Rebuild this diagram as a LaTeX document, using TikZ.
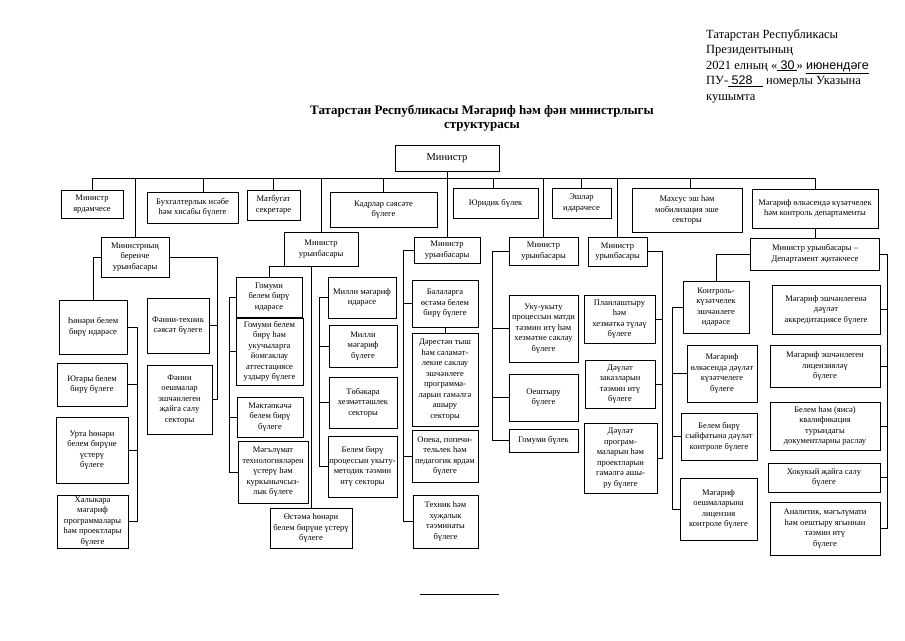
\documentclass[tikz,border=0pt]{standalone}
\usepackage{fontspec}
\setmainfont{Liberation Serif}
\newfontfamily\hdrsans{Liberation Sans}
\begin{document}
\begin{tikzpicture}[x=1pt,y=-1pt,
  box/.style={draw, line width=0.9pt, align=center, inner sep=1pt, font=\fontsize{8.5}{10.5}\selectfont},
  link/.style={line width=0.75pt},
  hdr/.style={anchor=north west, align=left, inner sep=0pt, font=\fontsize{12.5}{15.5}\selectfont},
  ttl/.style={align=center, inner sep=0pt, font=\fontsize{13}{14.5}\selectfont\bfseries}
]
\path[use as bounding box, fill=white] (0,0) rectangle (905,640);

% header and title
\node[hdr] (header) at (706,29) {Татарстан Республикасы\\Президентының\\2021 елның «\underline{\hdrsans\ 30\,}» \underline{\hdrsans июнендәге}\\ПУ-\underline{\hdrsans\ 528\ \ \ }\ номерлы Указына\\кушымта};
\node[ttl] (title) at (482,118) {Татарстан Республикасы Мәгариф һәм фән министрлыгы\\структурасы};

% minister
\node[box, font=\fontsize{10.5}{12}\selectfont, minimum width=104, minimum height=26] (min) at (447,158) {Министр};

% row 1
\node[box, minimum width=62, minimum height=28] (r1a) at (92,204) {Министр\\ярдәмчесе};
\node[box, minimum width=91, minimum height=31] (r1b) at (192.5,207.5) {Бухгалтерлык исәбе\\һәм хисабы бүлеге};
\node[box, minimum width=53, minimum height=30] (r1c) at (273.5,205) {Матбугат\\секретаре};
\node[box, minimum width=107, minimum height=35] (r1d) at (383.5,209.5) {Кадрлар сәясәте\\бүлеге};
\node[box, minimum width=85, minimum height=30] (r1e) at (495.5,203) {Юридик бүлек};
\node[box, minimum width=59, minimum height=30] (r1f) at (581.5,203) {Эшләр\\идарәчесе};
\node[box, minimum width=110, minimum height=44] (r1g) at (687,210) {Махсус эш һәм\\мобилизация эше\\секторы};
\node[box, minimum width=126, minimum height=39] (r1h) at (815,208.5) {Мәгариф өлкәсендә күзәтчелек\\һәм контроль департаменты};

% deputies
\node[box, minimum width=68, minimum height=40] (d1) at (135,257) {Министрның\\беренче\\урынбасары};
\node[box, minimum width=74, minimum height=34] (d2) at (321,249) {Министр\\урынбасары};
\node[box, minimum width=66, minimum height=26] (d3) at (447,250) {Министр\\урынбасары};
\node[box, minimum width=69, minimum height=28] (d4) at (543.5,251) {Министр\\урынбасары};
\node[box, minimum width=59, minimum height=29] (d5) at (617.5,251.5) {Министр\\урынбасары};
\node[box, minimum width=129, minimum height=32] (d6) at (815,254) {Министр урынбасары --\\Департамент җитәкчесе};

% column 1
\node[box, minimum width=68, minimum height=54] (hon) at (93,327) {Һөнәри белем\\бирү идарәсе};
\node[box, minimum width=70, minimum height=43] (yug) at (92,384.5) {Югары белем\\бирү бүлеге};
\node[box, minimum width=72, minimum height=66] (urt) at (92,450) {Урта һөнәри\\белем бирүне\\үстерү\\бүлеге};
\node[box, minimum width=71, minimum height=53] (hal) at (92.5,521.5) {Халыкара\\мәгариф\\программалары\\һәм проектлары\\бүлеге};
\node[box, minimum width=62, minimum height=55] (ft) at (178,325.5) {Фәнни-техник\\сәясәт бүлеге};
\node[box, minimum width=65, minimum height=69] (fo) at (179.5,399.5) {Фәнни\\оешмалар\\эшчәнлеген\\җайга салу\\секторы};

% column 2
\node[box, minimum width=66, minimum height=40] (gbi) at (269,297) {Гомуми\\белем бирү\\идарәсе};
\node[box, minimum width=67, minimum height=67] (gbh) at (269.5,351.5) {Гомуми белем\\бирү һәм\\укучыларга\\йомгаклау\\аттестациясе\\уздыру бүлеге};
\node[box, minimum width=66, minimum height=40] (mak) at (270,417) {Мәктәпкәчә\\белем бирү\\бүлеге};
\node[box, minimum width=70, minimum height=62] (mag) at (273,472) {Мәгълүмат\\технологияләрен\\үстерү һәм\\куркынычсыз-\\лык бүлеге};
\node[box, minimum width=82, minimum height=40] (ost) at (311,528) {Өстәмә һөнәри\\белем бирүне үстерү\\бүлеге};
\node[box, minimum width=68, minimum height=41] (mmi) at (362,297.5) {Милли мәгариф\\идарәсе};
\node[box, minimum width=68, minimum height=42] (mmb) at (363,346) {Милли\\мәгариф\\бүлеге};
\node[box, minimum width=68, minimum height=51] (tob) at (363,402.5) {Төбәкара\\хезмәттәшлек\\секторы};
\node[box, minimum width=69, minimum height=61] (bbp) at (362.5,466.5) {Белем бирү\\процессын укыту-\\методик тәэмин\\итү секторы};

% column 3
\node[box, minimum width=66, minimum height=47] (bal) at (445,303.5) {Балаларга\\өстәмә белем\\бирү бүлеге};
\node[box, minimum width=66, minimum height=93] (der) at (445,379.5) {Дәрестән тыш\\һәм сәламәт-\\лекне саклау\\эшчәнлеге\\программа-\\ларын гамәлгә\\ашыру\\секторы};
\node[box, minimum width=66, minimum height=52] (ope) at (445,456) {Опека, попечи-\\тельлек һәм\\педагогик ярдәм\\бүлеге};
\node[box, minimum width=65, minimum height=53] (tex) at (445.5,521.5) {Техник һәм\\хуҗалык\\тәэминаты\\бүлеге};

% column 4
\node[box, minimum width=69, minimum height=67] (uku) at (543.5,328.5) {Уку-укыту\\процессын матди\\тәэмин итү һәм\\хезмәтне саклау\\бүлеге};
\node[box, minimum width=69, minimum height=47] (oes) at (543.5,397.5) {Оештыру\\бүлеге};
\node[box, minimum width=69, minimum height=23] (gom) at (543.5,440.5) {Гомуми бүлек};

% column 5
\node[box, minimum width=71, minimum height=48] (pla) at (619.5,319) {Планлаштыру\\һәм\\хезмәткә түләү\\бүлеге};
\node[box, minimum width=70, minimum height=48] (dz) at (620,384) {Дәүләт\\заказларын\\тәэмин итү\\бүлеге};
\node[box, minimum width=73, minimum height=70] (dpr) at (620.5,458) {Дәүләт\\програм-\\маларын һәм\\проектларын\\гамәлгә ашы-\\ру бүлеге};

% column 6
\node[box, minimum width=66, minimum height=52] (kon) at (716,307) {Контроль-\\күзәтчелек\\эшчәнлеге\\идарәсе};
\node[box, minimum width=70, minimum height=57] (mod) at (722,373.5) {Мәгариф\\өлкәсендә дәүләт\\күзәтчелеге\\бүлеге};
\node[box, minimum width=76, minimum height=47] (bbs) at (719,436.5) {Белем бирү\\сыйфатына дәүләт\\контроле бүлеге};
\node[box, minimum width=77, minimum height=62] (moe) at (718.5,509) {Мәгариф\\оешмаларына\\лицензия\\контроле бүлеге};
\node[box, minimum width=108, minimum height=49] (mea) at (826,309.5) {Мәгариф эшчәнлегенә\\дәүләт\\аккредитациясе бүлеге};
\node[box, minimum width=110, minimum height=42] (mel) at (825,366) {Мәгариф эшчәнлеген\\лицензияләү\\бүлеге};
\node[box, minimum width=110, minimum height=48] (bhk) at (825,426) {Белем һәм (яисә)\\квалификация\\турындагы\\документларны раслау};
\node[box, minimum width=112, minimum height=29] (hok) at (824,477.5) {Хокукый җайга салу\\бүлеге};
\node[box, minimum width=110, minimum height=53] (ana) at (825,528.5) {Аналитик, мәгълүмати\\һәм оештыру ягыннан\\тәэмин итү\\бүлеге};

% bus
\coordinate (busL) at (92,178);
\coordinate (busR) at (815,178);
\coordinate (t203) at (203,178);
\coordinate (t493) at (493,178);
\coordinate (t690) at (690,178);
\draw[link] (r1a.north) -- (r1a.north |- busL) -- (busR) -- (r1h.north);
\draw[link] (min.south) -- (d3.north);
\draw[link] (d1.north) -- (d1.north |- busL);
\draw[link] (t203) -- (t203 |- r1b.north);
\draw[link] (r1c.north) -- (r1c.north |- busL);
\draw[link] (d2.north) -- (d2.north |- busL);
\draw[link] (r1d.north) -- (r1d.north |- busL);
\draw[link] (t493) -- (t493 |- r1e.north);
\draw[link] (d4.north) -- (d4.north |- busL);
\draw[link] (r1f.north) -- (r1f.north |- busL);
\draw[link] (d5.north) -- (d5.north |- busL);
\draw[link] (t690) -- (t690 |- r1g.north);
\draw[link] (r1h.south) -- (d6.north);

% column 1 links
\coordinate (c1R) at (217,0);
\coordinate (c1b) at (137,0);
\draw[link] (d1.west) -| (hon.north);
\draw[link] (d1.east) -| (c1R |- fo.east) -- (fo.east);
\draw[link] (ft.east) -- (ft.east -| c1R);
\draw[link] (hon.east) -| (c1b |- hal.east) -- (hal.east);
\draw[link] (yug.east) -- (yug.east -| c1b);
\draw[link] (urt.east) -- (urt.east -| c1b);

% column 2 links
\coordinate (c2L) at (229,0);
\coordinate (c2R) at (319,0);
\draw[link] (d2.south west) -| (gbi.north);
\draw[link] (gbi.west) -| (c2L |- mag.west) -- (mag.west);
\draw[link] (gbh.west) -- (gbh.west -| c2L);
\draw[link] (mak.west) -- (mak.west -| c2L);
\draw[link] (ost.north) -- (ost.north |- d2.south);
\draw[link] (mmi.west) -| (c2R |- bbp.west) -- (bbp.west);
\draw[link] (mmb.west) -- (mmb.west -| c2R);
\draw[link] (tob.west) -- (tob.west -| c2R);

% column 3 links
\coordinate (c3) at (403,0);
\draw[link] (d3.west) -| (c3 |- tex.west) -- (tex.west);
\draw[link] (bal.west) -- (bal.west -| c3);
\draw[link] (ope.west) -- (ope.west -| c3);
\draw[link] (bal.south) -- (der.north);

% column 4 links
\coordinate (c4) at (492,0);
\draw[link] (d4.west) -| (c4 |- gom.west) -- (gom.west);
\draw[link] (uku.west) -- (uku.west -| c4);
\draw[link] (oes.west) -- (oes.west -| c4);

% column 5 links
\coordinate (c5) at (662,0);
\draw[link] (d5.east) -| (c5 |- dpr.east) -- (dpr.east);
\draw[link] (pla.east) -- (pla.east -| c5);
\draw[link] (dz.east) -- (dz.east -| c5);

% column 6 links
\coordinate (c6L) at (672,0);
\coordinate (c6R) at (887,0);
\draw[link] (d6.west) -| (kon.north);
\draw[link] (kon.west) -| (c6L |- moe.west) -- (moe.west);
\draw[link] (mod.west) -- (mod.west -| c6L);
\draw[link] (bbs.west) -- (bbs.west -| c6L);
\draw[link] (d6.east) -| (c6R |- ana.east) -- (ana.east);
\draw[link] (mea.east) -- (mea.east -| c6R);
\draw[link] (mel.east) -- (mel.east -| c6R);
\draw[link] (bhk.east) -- (bhk.east -| c6R);
\draw[link] (hok.east) -- (hok.east -| c6R);

% bottom rule
\coordinate (ruleL) at (420,594);
\coordinate (ruleR) at (499,594);
\draw[line width=0.8pt] (ruleL) -- (ruleR);
\end{tikzpicture}
\end{document}
